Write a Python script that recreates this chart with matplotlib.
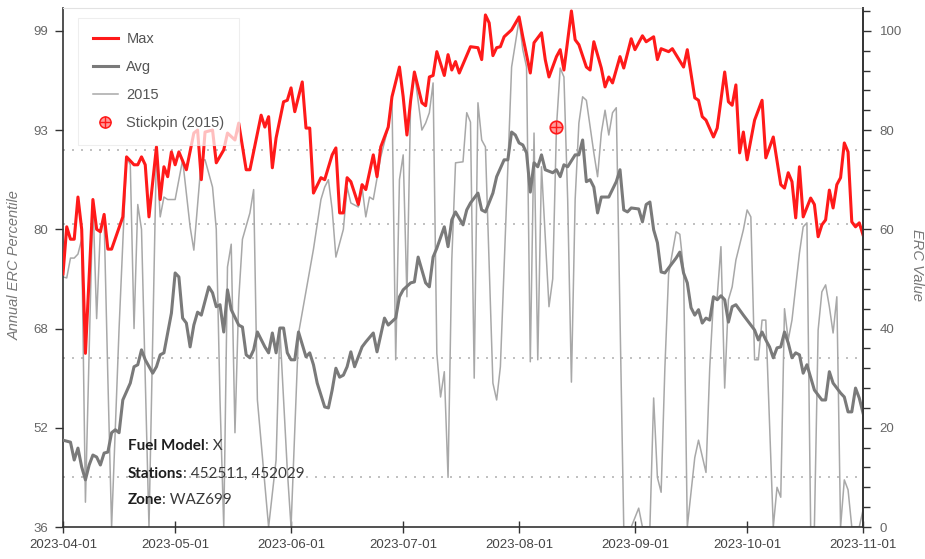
import numpy as np
import matplotlib
matplotlib.use('Agg')
import matplotlib.pyplot as plt
import matplotlib.dates as mdates
from matplotlib.ticker import MultipleLocator
from matplotlib.lines import Line2D

# day offsets from 2023-04-01 and values (ERC value scale)
max_days = [0, 1, 2, 3, 4, 5, 6, 8, 9, 10, 11, 12, 13, 16, 17, 19, 20, 21, 22, 23, 25, 26, 27, 28, 29, 30, 31, 33,
            35, 36, 37, 38, 40, 41, 43, 44, 46, 47, 49, 50, 53, 54, 55, 56, 57, 59, 60, 61, 62, 64, 65, 66, 67, 69,
            70, 72, 73, 74, 75, 76, 77, 79, 80, 81, 83, 84, 85, 87, 88, 90, 91, 92, 93, 94, 96, 97, 98, 99, 100,
            102, 103, 104, 105, 106, 109, 111, 112, 113, 114, 115, 116, 117, 118, 120, 122, 123, 125, 126, 128,
            129, 130, 132, 133, 134, 136, 137, 138, 140, 141, 142, 144, 145, 146, 147, 149, 150, 152, 153, 155,
            156, 158, 159, 160, 162, 163, 166, 167, 169, 170, 171, 172, 174, 175, 177, 178, 179, 180, 181, 182,
            183, 185, 187, 188, 190, 192, 193, 194, 195, 196, 197, 198, 200, 201, 202, 203, 204, 205, 206, 207,
            208, 209, 210, 211, 212, 213, 214]
max_vals = [51, 60.5, 58, 58, 66.5, 60, 35, 66, 60, 59.5, 63, 56, 56, 62.5, 74.6, 73, 73, 74.6, 73, 62.5, 76.6,
            66, 72.6, 70.6, 75.6, 73, 75.6, 72, 79.4, 80, 70, 79.6, 80, 73.4, 76, 79.4, 78, 81.4, 72, 72, 83, 80.6,
            82.7, 72.4, 78.4, 85.7, 86, 88.5, 83.7, 89.7, 80.4, 80.4, 67.3, 70.4, 70, 75, 76.4, 63.3, 63.3, 70.4,
            69.6, 65, 69, 68, 75, 70.6, 76.6, 80.6, 86.7, 92.7, 86.7, 79, 86, 91.7, 85.5, 84.9, 90.7, 91, 95.8,
            91, 95.2, 92.1, 93.8, 91.5, 96.8, 96.6, 94.2, 103.2, 101.6, 95, 96.6, 96.8, 98.8, 100.2, 102.8, 98.8,
            91.5, 97.6, 99.6, 94.2, 90.7, 94.8, 96.2, 92.1, 104, 98.2, 97.2, 92.7, 92.1, 97.8, 92.5, 88.7, 90.7,
            89.5, 94.8, 92.5, 98.4, 96.2, 99, 97.8, 98.8, 94.2, 96.4, 95.8, 96.4, 92.7, 96.2, 86.5, 86, 82.7, 82,
            78.6, 80.4, 91.7, 85.7, 85, 89.1, 75.4, 79.6, 74, 82, 86, 74.4, 78.6, 69, 68.3, 71.4, 69.6, 62.3, 72.6,
            62.5, 66.3, 65, 58.5, 60.9, 61.9, 67.9, 64.3, 69, 70.4, 77.4, 75.6, 61.5, 60.5, 61.3, 58.9]

avg_days = [0, 2, 3, 4, 5, 6, 7, 8, 9, 10, 11, 12, 13, 14, 15, 16, 18, 19, 20, 21, 22, 24, 25, 26, 27, 29, 30, 31,
            32, 33, 34, 35, 36, 37, 39, 40, 41, 42, 43, 44, 45, 47, 48, 49, 50, 51, 52, 54, 55, 56, 57, 58, 59, 60,
            61, 62, 63, 65, 66, 67, 68, 70, 71, 72, 73, 74, 75, 76, 77, 78, 80, 81, 83, 84, 86, 87, 89, 90, 91, 93,
            94, 95, 97, 98, 99, 100, 102, 103, 104, 105, 107, 108, 109, 111, 112, 113, 115, 116, 118, 119, 120,
            121, 122, 123, 124, 125, 126, 127, 128, 129, 131, 132, 133, 134, 135, 137, 138, 139, 140, 141, 142,
            143, 144, 145, 146, 148, 149, 150, 151, 152, 154, 155, 156, 157, 158, 159, 160, 161, 163, 164, 165,
            166, 167, 168, 169, 170, 171, 172, 173, 174, 175, 176, 177, 178, 179, 180, 182, 183, 185, 186, 187,
            188, 189, 190, 191, 192, 193, 194, 195, 196, 197, 198, 199, 201, 202, 203, 204, 205, 206, 208, 209,
            210, 211, 212, 213, 214]
avg_vals = [17.5, 17.1, 13.5, 15.9, 12.1, 9.5, 12.5, 14.5, 14.1, 12.5, 14.9, 15.1, 19, 19.6, 19, 25.6, 29, 32.3,
            32.7, 35.7, 33.7, 31, 32.3, 34.7, 35.1, 43.1, 51.2, 50.4, 42.1, 41.1, 36.3, 40.7, 43.3, 42.7, 48.4,
            47.2, 44.4, 44.8, 39.3, 47.8, 43.8, 40.7, 40.3, 34.7, 34.1, 35.7, 39.3, 36.3, 35.1, 39.1, 35.1, 40.1,
            40.1, 35.1, 33.7, 33.7, 39.3, 34.3, 35.1, 32.7, 29, 24.2, 24, 27.6, 32, 30.2, 30.6, 32.3, 35.3, 32.3,
            36.3, 37.3, 39.1, 35.3, 42.1, 40.7, 42.1, 46.4, 47.8, 49.2, 49.4, 54.4, 49.2, 48.4, 54.4, 56.2, 60.5,
            56.5, 61.9, 63.5, 60.9, 63.9, 65.3, 67.3, 63.9, 63.5, 67.3, 70.6, 74, 74, 79.6, 79, 77.4, 77, 75.4,
            67.5, 73.4, 72.6, 75, 72, 71.4, 72, 70.6, 73, 72.6, 75, 75, 78, 69.6, 70, 68.5, 63.3, 66.5, 66.5, 66.5,
            69.6, 72, 63.9, 63.5, 64.3, 64.1, 61.5, 65, 65.5, 59.9, 57.3, 51.4, 51.2, 53.2, 54.2, 55.4, 51.2, 49.2,
            44.2, 42.7, 43.8, 41.1, 42.1, 41.7, 46.4, 45.8, 46.6, 45.8, 41.3, 44.4, 44.8, 42.7, 41.7, 39.7, 37.7,
            39.3, 37.7, 36.3, 34.1, 36.1, 36.3, 39.3, 37.1, 34.1, 35.1, 34.7, 31, 32.7, 27.6, 26.6, 25.6, 25.6,
            31.3, 29, 27, 26.2, 23.2, 23.2, 28, 26, 23]

y2015_days = [0, 1, 2, 3, 4, 5, 6, 8, 9, 10, 11, 12, 13, 15, 17, 18, 19, 20, 21, 23, 25, 26, 27, 28, 30, 31, 32,
              34, 35, 37, 38, 40, 41, 42, 43, 44, 45, 46, 47, 48, 50, 51, 52, 55, 57, 58, 60, 61, 63, 67, 69, 70,
              71, 72, 73, 75, 76, 77, 79, 80, 81, 82, 83, 85, 87, 88, 89, 90, 91, 92, 93, 94, 96, 97, 98, 99, 100,
              101, 102, 103, 104, 105, 107, 108, 109, 110, 111, 112, 113, 115, 116, 117, 119, 120, 122, 123, 124,
              125, 126, 127, 128, 130, 131, 132, 133, 134, 135, 136, 137, 138, 139, 140, 142, 143, 144, 145, 146,
              147, 148, 150, 152, 154, 155, 157, 158, 159, 160, 161, 162, 164, 165, 166, 167, 169, 170, 172, 173,
              174, 175, 176, 177, 178, 179, 180, 182, 183, 184, 185, 186, 187, 188, 190, 191, 192, 193, 194, 195,
              196, 197, 198, 199, 200, 201, 202, 203, 204, 205, 206, 207, 208, 209, 210, 211, 212, 213, 214]
y2015_vals = [50.4, 50.2, 54.2, 54.2, 55, 58, 5, 66, 42, 60, 62, 30, 0, 40, 74.6, 73, 40, 65, 60, 0, 76, 62.5,
              66.5, 66, 66, 70, 74, 60.5, 55.8, 74, 74, 68.5, 60, 25.6, 0, 52.4, 57, 19, 45.8, 58, 63.3, 68, 25.6,
              0, 13.5, 40, 11.5, 0, 39, 56, 66, 68.5, 70, 64, 54.4, 60, 68.5, 65.3, 64.5, 68.5, 62.5, 66.5, 66,
              74.6, 80.6, 86.7, 33.7, 70, 75, 46.4, 86, 91.7, 80, 81.4, 83.5, 89.5, 35, 26.2, 31.3, 10, 53.8, 73.4,
              73.6, 83.5, 81.6, 30, 85.5, 78, 76.6, 29, 25.6, 32.3, 72.6, 92.7, 102.2, 96.2, 92.7, 33.3, 79.4, 33.7,
              72.6, 44.4, 50, 80.6, 92.5, 90.7, 66, 29.2, 66, 81.4, 86.7, 86, 75.4, 70.6, 79.4, 84, 79, 83.5, 84.5,
              0, 0, 3.8, 0, 0, 26, 10, 7, 32, 51, 59.5, 59, 52, 0, 14, 17.5, 11, 32, 45.8, 46.4, 56.5, 28, 45.8,
              48.4, 53.8, 59.9, 63.9, 62.5, 33.7, 33.7, 41.7, 41.7, 0, 8, 6, 44, 37.7, 41.7, 48.4, 55.2, 60.5, 61.3,
              0, 0, 39.7, 47.4, 48.8, 44.4, 39.1, 46.4, 0, 9.5, 7.5, 0, 0, 0, 3.4]

stickpin_day = 132
stickpin_val = 80.6

ref_lines = [10, 34, 61, 76]
pct_ticks = [0, 20, 40, 60, 80, 100]
pct_labels = ['36', '52', '68', '80', '93', '99']
erc_ticks = [0, 20, 40, 60, 80, 100]

info_rows = [('Fuel Model', 'X'), ('Stations', '452511, 452029'), ('Zone', 'WAZ699')]

START = np.datetime64('2023-04-01')
END = np.datetime64('2023-11-01')
TOP = 104.6

RED = '#ff1a1a'
AVG_GREY = '#7a7a7a'
YR_GREY = '#a8a8a8'


def to_dates(days):
    return START + np.array(days).astype('timedelta64[D]')


plt.rcParams['font.family'] = ['Liberation Sans', 'DejaVu Sans']

fig = plt.figure(figsize=(9.25, 5.59), dpi=100)
ax = fig.add_axes([63 / 925, 32 / 559, 800 / 925, 519 / 559])
ax.set_xlim(START, END)
ax.set_ylim(0, TOP)

for v in ref_lines:
    ax.axhline(v, color='#b5b5b5', lw=1.2, ls=(0, (1.2, 4.2)), zorder=1)

ax.plot(to_dates(y2015_days), y2015_vals, color=YR_GREY, lw=1.1, zorder=2)
ax.plot(to_dates(avg_days), avg_vals, color=AVG_GREY, lw=2.2, zorder=3)
ax.plot(to_dates(max_days), max_vals, color=RED, lw=2.2, zorder=4)

sd = to_dates([stickpin_day])
ax.plot(sd, [stickpin_val], ls='none', marker='o', ms=9, mfc='#ff9c9c', mec=RED, mew=1.2, zorder=6)
ax.plot(sd, [stickpin_val], ls='none', marker='+', ms=9, mec=RED, mew=1.0, zorder=7)

# left axis: percentile labels
ax.set_yticks(pct_ticks)
ax.set_yticklabels(pct_labels)
ax.tick_params(axis='y', direction='out', length=6, width=1, color='#333333',
               labelcolor='#666666', labelsize=9.5, pad=5)

ax.xaxis.set_major_locator(mdates.MonthLocator())
ax.xaxis.set_major_formatter(mdates.DateFormatter('%Y-%m-%d'))
ax.tick_params(axis='x', direction='inout', length=9, width=1, color='#333333',
               labelcolor='#444444', labelsize=9.5, pad=4)

for side in ['left', 'bottom', 'right']:
    ax.spines[side].set_color('#333333')
    ax.spines[side].set_linewidth(1.2)
ax.spines['top'].set_color('#e2e2e2')

# right axis: ERC values
ax2 = ax.twinx()
ax2.set_ylim(0, TOP)
ax2.set_yticks(erc_ticks)
ax2.yaxis.set_minor_locator(MultipleLocator(4))
ax2.tick_params(axis='y', which='major', direction='out', length=6, width=1, color='#333333',
                labelcolor='#666666', labelsize=9.5, pad=6)
ax2.tick_params(axis='y', which='minor', direction='out', length=5, width=1, color='#333333')
for side in ['left', 'bottom', 'top']:
    ax2.spines[side].set_visible(False)
ax2.spines['right'].set_color('#333333')
ax2.spines['right'].set_linewidth(1.2)

fig.text(15 / 925, 1 - 265 / 559, 'Annual ERC Percentile', rotation=90, style='italic',
         color='#777777', fontsize=10.5, ha='center', va='center')
fig.text(917 / 925, 1 - 265 / 559, 'ERC Value', rotation=270, style='italic',
         color='#777777', fontsize=10.5, ha='center', va='center')

handles = [
    Line2D([], [], color=RED, lw=2.2),
    Line2D([], [], color=AVG_GREY, lw=2.2),
    Line2D([], [], color=YR_GREY, lw=1.1),
    (Line2D([], [], ls='none', marker='o', ms=8, mfc='#ff9c9c', mec=RED, mew=1.1),
     Line2D([], [], ls='none', marker='+', ms=8, mec=RED, mew=1.0)),
]
leg = ax2.legend(handles, ['Max', 'Avg', '2015', 'Stickpin (2015)'], loc='upper left',
                 bbox_to_anchor=(0.019, 0.981), borderaxespad=0, fontsize=10.5,
                 labelcolor='#555555', frameon=True, fancybox=False, framealpha=0.72,
                 edgecolor='#e8e8e8', handlelength=1.7, handletextpad=0.6,
                 labelspacing=0.95, borderpad=1.0)
leg.get_frame().set_linewidth(0.8)

ys = [0.156, 0.102, 0.052]
for (lab, val), y in zip(info_rows, ys):
    t = ax2.text(0.081, y, lab, transform=ax2.transAxes, fontsize=11, fontweight='bold',
                 family=['Lato', 'DejaVu Sans'], color='#1e1e1e', va='center', ha='left', zorder=8)
    ax2.annotate(': ' + val, xy=(1, 0), xycoords=t, va='bottom', ha='left', fontsize=11,
                 family=['Lato', 'DejaVu Sans'], color='#3a3a3a', zorder=8)

fig.savefig('out.png', dpi=100)
